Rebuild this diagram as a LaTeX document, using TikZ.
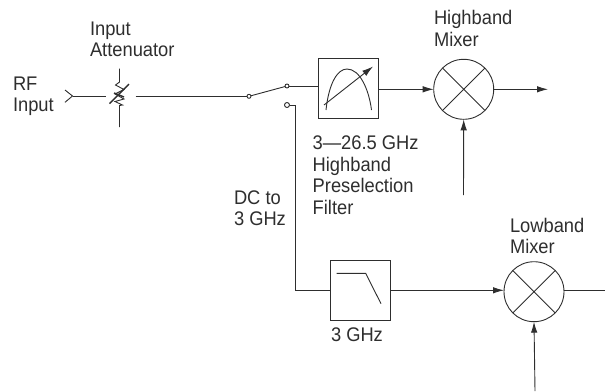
\documentclass[tikz,border=0pt]{standalone}
\usepackage{fontspec}
\setmainfont[FakeStretch=0.93]{Liberation Sans}
\usetikzlibrary{arrows.meta,shapes.misc}
\definecolor{ink}{HTML}{2E2E2E}
\tikzset{
  x=1pt,y=-1pt,
  wire/.style={draw=ink,line width=0.9pt},
  arrowwire/.style={wire,-{Latex[length=11pt,width=6.5pt]}},
  fbox/.style={draw=ink,line width=0.9pt,minimum size=60pt,inner sep=0pt,outer sep=0pt},
  mixer/.style={circle,cross out,draw=ink,line width=0.9pt,minimum size=42.4pt,inner sep=0pt,outer sep=0pt},
  mring/.style={circle,draw=ink,line width=0.9pt,minimum size=60pt,inner sep=0pt,outer sep=0pt},
  contact/.style={circle,draw=ink,line width=0.9pt,fill=white,minimum size=4pt,inner sep=0pt,outer sep=0pt},
  lbl/.style={anchor=north west,align=left,inner sep=0pt,outer sep=0pt,text=ink,font=\fontsize{19.7}{21.4}\selectfont},
}
\begin{document}
\begin{tikzpicture}
\useasboundingbox (0,0) rectangle (605,391);
% labels
\node[lbl] (rf) at (13,76.5) {RF\\Input};
\node[lbl] (att) at (90,21.5) {Input\\Attenuator};
\node[lbl] (himix) at (434,10.5) {Highband\\Mixer};
\node[lbl] (hifilt) at (312.7,136.2) {3—26.5 GHz\\Highband\\Preselection\\Filter};
\node[lbl] (dc) at (234,190.5) {DC to\\3 GHz};
\node[lbl] (lomix) at (510,218.2) {Lowband\\Mixer};
\node[lbl] (lof) at (331,328.2) {3 GHz};
% free ends
\coordinate (chevtop) at (65,90);
\coordinate (chevtip) at (72.5,96);
\coordinate (chevbot) at (65,102.3);
\coordinate (attin) at (106,96);
\coordinate (attout) at (135.5,96.3);
\coordinate (atttop) at (119.5,68.5);
\coordinate (attbot) at (119.5,127);
\coordinate (hilo) at (463.5,195);
\coordinate (hiout) at (548,89.3);
\coordinate (loout) at (605,290.5);
\coordinate (lolo) at (535,391);
% blocks
\node[fbox] (hibox) at (348.3,88.7) {};
\node[fbox] (lobox) at (360,290.3) {};
\node[mring] (hm) at (463.7,89.3) {};
\node[mixer] at (463.7,89.3) {};
\node[mring] (lm) at (534,291.7) {};
\node[mixer] at (534,291.7) {};
\node[contact] (pole) at (249,96.3) {};
\node[contact] (cup) at (287,86) {};
\node[contact,minimum size=5pt] (cdn) at (287,105) {};
% input
\draw[wire] (chevtop) -- (chevtip) -- (chevbot);
\draw[wire] (chevtip) -- (attin);
% attenuator
\draw[wire] (atttop) -- (119.5,82) -- (115.5,85) -- (124,89.5) -- (115,94) -- (124,99) -- (115,101.5) -- (122.5,105) -- (119.5,105.5) -- (attbot);
\draw[wire,line width=1.4pt] (109.5,103.7) -- (129,84);
\draw[wire,line width=1.4pt] (114,93) -- (124,97);
\draw[wire] (attout) -- (pole);
\draw[wire] (pole) -- (cup);
\draw[wire] (cup) -- (hibox.west |- cup);
\draw[wire] (cdn) -- (295.5,105) -- (295.5,290.3) -- (lobox.west);
% filter curves
\draw[wire] (326,110) .. controls (329,82) and (338,69) .. (347,69) .. controls (360,69) and (369,90) .. (371.5,110);
\draw[arrowwire] (324,105) -- (373,66.5);
\draw[wire] (336.7,273.3) -- (365.7,273.3) -- (381,303.7);
% signal arrows
\draw[arrowwire] (hibox.east |- hm) -- (hm.west);
\draw[arrowwire] (hm.east) -- (hiout);
\draw[arrowwire] (hilo) -- (hm.south);
\draw[arrowwire] (lobox.east) -- (lm.west |- lobox.east);
\draw[wire] (lm.east |- loout) -- (loout);
\draw[arrowwire] (lolo) -- (lm.south);
\end{tikzpicture}
\end{document}
